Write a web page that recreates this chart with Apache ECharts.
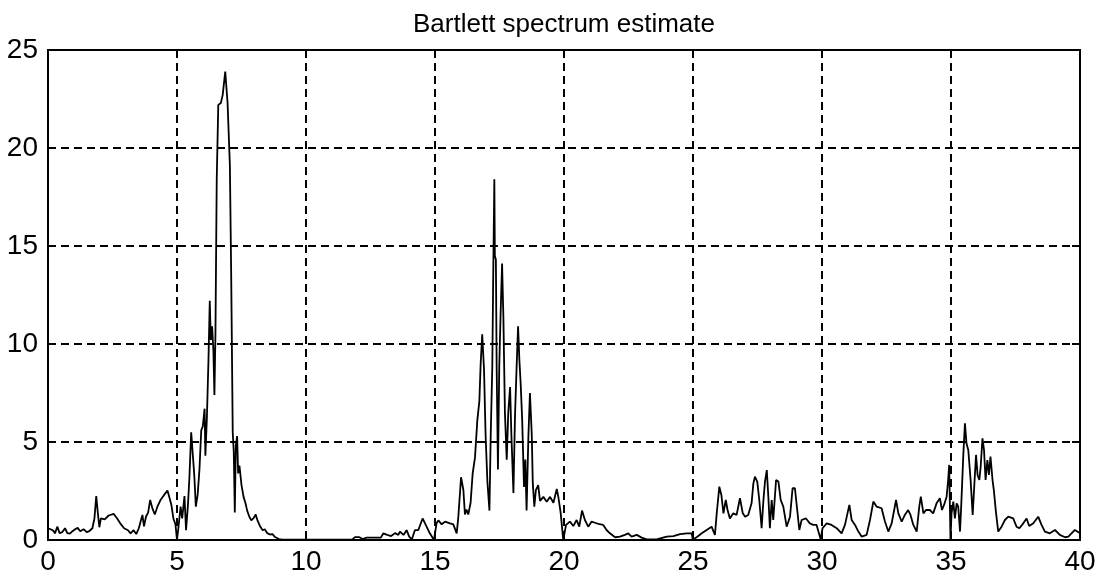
<!DOCTYPE html>
<html>
<head>
<meta charset="utf-8">
<title>Bartlett spectrum estimate</title>
<script src="https://cdn.jsdelivr.net/npm/echarts@6/dist/echarts.min.js"></script>
<style>
    html, body { margin: 0; padding: 0; background: #fff; }
    #main { width: 1101px; height: 580px; }
</style>
</head>
<body>
<div id="main"></div>
<script>
// 数据: [频率, 功率] 读自原图
var band0to10 = [
    [0.00, 0.60], [0.10, 0.55], [0.20, 0.48], [0.27, 0.34], [0.36, 0.68], [0.45, 0.35], [0.55, 0.40],
    [0.66, 0.60], [0.75, 0.35], [0.85, 0.32], [0.95, 0.45], [1.05, 0.55], [1.15, 0.62], [1.25, 0.45],
    [1.38, 0.55], [1.50, 0.40], [1.60, 0.45], [1.72, 0.60], [1.80, 1.10], [1.87, 2.24], [1.93, 1.40],
    [1.99, 0.65], [2.05, 1.10], [2.20, 1.05], [2.35, 1.25], [2.55, 1.33], [2.68, 1.10], [2.80, 0.85],
    [2.95, 0.60], [3.10, 0.50], [3.20, 0.34], [3.32, 0.50], [3.42, 0.30], [3.52, 0.60], [3.59, 0.94],
    [3.66, 1.28], [3.72, 0.70], [3.80, 1.20], [3.88, 1.40], [3.96, 2.04], [4.05, 1.60], [4.14, 1.30],
    [4.24, 1.70], [4.36, 2.04], [4.50, 2.30], [4.63, 2.52], [4.70, 2.20], [4.78, 1.80], [4.86, 1.10],
    [4.94, 0.80], [5.00, 0.00], [5.06, 0.70], [5.14, 1.70], [5.20, 1.10], [5.29, 2.24], [5.35, 0.50],
    [5.42, 1.70], [5.48, 3.15], [5.55, 5.50], [5.61, 4.40], [5.67, 3.30], [5.73, 1.70], [5.80, 2.30],
    [5.87, 3.60], [5.94, 5.60], [6.00, 5.80], [6.07, 6.70], [6.10, 4.30], [6.16, 6.30], [6.22, 9.20],
    [6.27, 12.2], [6.31, 10.2], [6.36, 10.9], [6.41, 9.70], [6.45, 7.40], [6.49, 10.5], [6.54, 18.4],
    [6.60, 22.2], [6.70, 22.3], [6.77, 22.7], [6.82, 23.3], [6.87, 23.9], [6.92, 24.0], [6.96, 22.3],
    [7.02, 22.2], [7.05, 19.1], [7.10, 13.6], [7.16, 5.50], [7.20, 4.50], [7.24, 1.40], [7.28, 4.80],
    [7.33, 5.30], [7.37, 3.40], [7.42, 3.80], [7.50, 2.80], [7.58, 2.20], [7.65, 1.90], [7.72, 1.50],
    [7.80, 1.20], [7.88, 1.00], [7.96, 1.10], [8.05, 1.30], [8.12, 1.00], [8.22, 0.70], [8.32, 0.50],
    [8.40, 0.55], [8.50, 0.35], [8.60, 0.28], [8.70, 0.30], [8.80, 0.15], [8.95, 0.05], [9.10, 0.02]
];
var band10to20 = [
    [10.0, 0.02], [11.0, 0.02], [11.8, 0.03], [11.9, 0.15], [12.05, 0.15], [12.2, 0.05], [12.35, 0.12],
    [12.9, 0.12], [13.0, 0.34], [13.15, 0.26], [13.3, 0.20], [13.45, 0.35], [13.58, 0.26], [13.64, 0.43],
    [13.78, 0.26], [13.9, 0.50], [14.0, 0.17], [14.1, 0.03], [14.22, 0.50], [14.35, 0.50], [14.52, 1.10],
    [14.65, 0.75], [14.8, 0.34], [14.96, 0.00], [15.06, 0.85], [15.13, 1.00], [15.26, 0.80], [15.39, 0.94],
    [15.58, 0.85], [15.71, 0.80], [15.84, 0.34], [15.9, 1.10], [16.01, 3.20], [16.1, 2.55], [16.16, 1.30],
    [16.22, 1.55], [16.29, 1.30], [16.38, 1.90], [16.46, 3.40], [16.55, 4.20], [16.64, 6.10], [16.72, 7.10],
    [16.77, 9.00], [16.83, 10.5], [16.90, 8.70], [16.96, 5.40], [17.03, 3.00], [17.11, 1.50], [17.16, 5.40],
    [17.22, 8.80], [17.26, 13.9], [17.30, 18.4], [17.32, 14.5], [17.36, 14.3], [17.39, 8.80], [17.44, 3.60],
    [17.49, 8.80], [17.54, 11.4], [17.60, 14.1], [17.65, 11.4], [17.71, 6.50], [17.78, 4.10], [17.84, 6.50],
    [17.91, 7.80], [17.96, 5.40], [18.04, 2.40], [18.10, 6.30], [18.16, 8.70], [18.22, 10.9], [18.27, 9.20],
    [18.32, 8.00], [18.38, 6.10], [18.45, 2.70], [18.50, 4.10], [18.55, 1.50], [18.62, 5.30], [18.68, 7.50],
    [18.75, 5.40], [18.79, 2.90], [18.85, 1.70], [18.91, 2.55], [19.00, 2.80], [19.07, 2.00], [19.20, 2.20],
    [19.33, 1.95], [19.46, 2.20], [19.59, 1.90], [19.72, 2.60], [19.78, 2.20], [19.87, 1.40], [19.97, 0.00]
];
var band20to30 = [
    [20.08, 0.77], [20.23, 0.94], [20.36, 0.71], [20.49, 1.02], [20.59, 0.68], [20.70, 1.50], [20.81, 1.02],
    [20.94, 0.68], [21.07, 0.94], [21.20, 0.88], [21.33, 0.82], [21.52, 0.77], [21.65, 0.51], [21.78, 0.34],
    [21.98, 0.14], [22.17, 0.17], [22.36, 0.26], [22.49, 0.34], [22.62, 0.17], [22.82, 0.26], [23.01, 0.12],
    [23.20, 0.03], [23.59, 0.03], [23.98, 0.17], [24.24, 0.20], [24.50, 0.30], [24.76, 0.34], [24.95, 0.34],
    [24.99, 0.03], [25.14, 0.14], [25.34, 0.34], [25.53, 0.51], [25.72, 0.68], [25.85, 0.26], [25.92, 1.36],
    [26.02, 2.72], [26.10, 2.30], [26.18, 1.36], [26.27, 2.04], [26.34, 1.53], [26.43, 1.10], [26.56, 1.36],
    [26.69, 1.28], [26.82, 2.13], [26.93, 1.36], [27.02, 1.19], [27.14, 1.28], [27.27, 1.87], [27.34, 2.89],
    [27.40, 3.23], [27.49, 2.98], [27.57, 2.04], [27.66, 0.60], [27.73, 2.04], [27.79, 2.98], [27.86, 3.57],
    [27.92, 2.21], [27.98, 0.60], [28.05, 2.04], [28.11, 1.02], [28.22, 3.06], [28.31, 2.98], [28.40, 2.04],
    [28.50, 1.70], [28.63, 0.68], [28.76, 1.19], [28.86, 2.64], [28.95, 2.64], [29.04, 1.53], [29.12, 0.51],
    [29.21, 1.02], [29.38, 1.10], [29.53, 0.85], [29.66, 0.77], [29.79, 0.77], [29.95, 0.03]
];
var band30to40 = [
    [30.02, 0.60], [30.18, 0.85], [30.37, 0.77], [30.57, 0.60], [30.76, 0.34], [30.89, 0.77], [31.06, 1.79],
    [31.15, 1.02], [31.28, 0.77], [31.41, 0.43], [31.54, 0.17], [31.73, 0.26], [31.86, 1.02], [31.99, 1.96],
    [32.12, 1.70], [32.31, 1.62], [32.44, 0.94], [32.57, 0.43], [32.70, 0.85], [32.87, 2.04], [32.96, 1.36],
    [33.09, 0.94], [33.21, 1.28], [33.34, 1.53], [33.43, 1.28], [33.54, 0.77], [33.67, 0.43], [33.77, 1.70],
    [33.83, 2.21], [33.93, 1.36], [34.03, 1.53], [34.18, 1.53], [34.31, 1.36], [34.44, 1.87], [34.57, 2.13],
    [34.65, 1.53], [34.73, 1.79], [34.83, 2.21], [34.89, 3.06], [34.93, 3.83], [34.98, 0.00], [35.02, 1.36],
    [35.09, 1.96], [35.15, 1.10], [35.22, 1.87], [35.28, 1.70], [35.35, 0.43], [35.40, 1.87], [35.48, 4.42],
    [35.54, 5.95], [35.60, 4.93], [35.67, 4.59], [35.76, 3.06], [35.84, 1.28], [35.90, 2.72], [35.97, 4.34],
    [36.03, 3.32], [36.10, 3.06], [36.15, 3.74], [36.22, 5.19], [36.28, 4.59], [36.34, 3.06], [36.41, 4.08],
    [36.47, 3.32], [36.53, 4.25], [36.61, 3.06], [36.66, 2.55], [36.74, 1.45], [36.83, 0.43], [36.96, 0.68],
    [37.09, 1.02], [37.22, 1.19], [37.41, 1.10], [37.54, 0.68], [37.65, 0.60], [37.80, 0.85], [37.93, 1.10],
    [38.03, 0.71], [38.19, 0.85], [38.38, 1.19], [38.51, 0.77], [38.64, 0.43], [38.83, 0.34], [39.03, 0.51],
    [39.22, 0.26], [39.42, 0.14], [39.55, 0.17], [39.67, 0.34], [39.80, 0.51], [40.00, 0.34]
];
var xTicks = [0, 5, 10, 15, 20, 25, 30, 35, 40];
var yTicks = [0, 5, 10, 15, 20, 25];

var spectrum = band0to10.concat(band10to20, band20to30, band30to40);

var myChart = echarts.init(document.getElementById('main'), null, { renderer: 'canvas' });

var tickFont = "'Liberation Sans Narrow', 'Liberation Sans', Arial, sans-serif";
var dashGrid = {
    show: true,
    lineStyle: { color: '#000', width: 2, type: [8, 5] }
};
var inTick = { show: true, inside: true, length: 8, lineStyle: { color: '#000', width: 2 } };
var blackLine = { show: true, onZero: false, lineStyle: { color: '#000', width: 2 } };

var option = {
    backgroundColor: '#fff',
    animation: false,
    title: {
        text: 'Bartlett spectrum estimate',
        left: 408,
        top: 7,
        textStyle: {
            color: '#000',
            fontFamily: "'Liberation Sans', Arial, sans-serif",
            fontWeight: 'normal',
            fontSize: 26
        }
    },
    grid: {
        left: 48,
        right: 21,
        top: 50,
        bottom: 40,
        show: true,
        borderColor: '#000',
        borderWidth: 2,
        containLabel: false
    },
    xAxis: [{
        type: 'value',
        min: 0,
        max: 40,
        interval: 5,
        position: 'bottom',
        axisLine: blackLine,
        axisTick: inTick,
        splitLine: dashGrid,
        axisLabel: {
            color: '#000',
            fontFamily: tickFont,
            fontSize: 28,
            margin: 8,
            customValues: xTicks
        }
    }, {
        type: 'value',
        min: 0,
        max: 40,
        interval: 5,
        position: 'top',
        axisLine: blackLine,
        axisTick: inTick,
        axisLabel: { show: false },
        splitLine: { show: false }
    }],
    yAxis: [{
        type: 'value',
        min: 0,
        max: 25,
        interval: 5,
        position: 'left',
        axisLine: blackLine,
        axisTick: inTick,
        splitLine: dashGrid,
        axisLabel: {
            color: '#000',
            fontFamily: tickFont,
            fontSize: 28,
            margin: 10,
            customValues: yTicks
        }
    }, {
        type: 'value',
        min: 0,
        max: 25,
        interval: 5,
        position: 'right',
        axisLine: blackLine,
        axisTick: inTick,
        axisLabel: { show: false },
        splitLine: { show: false }
    }],
    series: [{
        name: 'Bartlett',
        type: 'line',
        data: spectrum,
        showSymbol: false,
        symbol: 'none',
        smooth: false,
        lineStyle: { color: '#000', width: 1.8 },
        z: 5
    }]
};
myChart.setOption(option);
</script>
</body>
</html>
